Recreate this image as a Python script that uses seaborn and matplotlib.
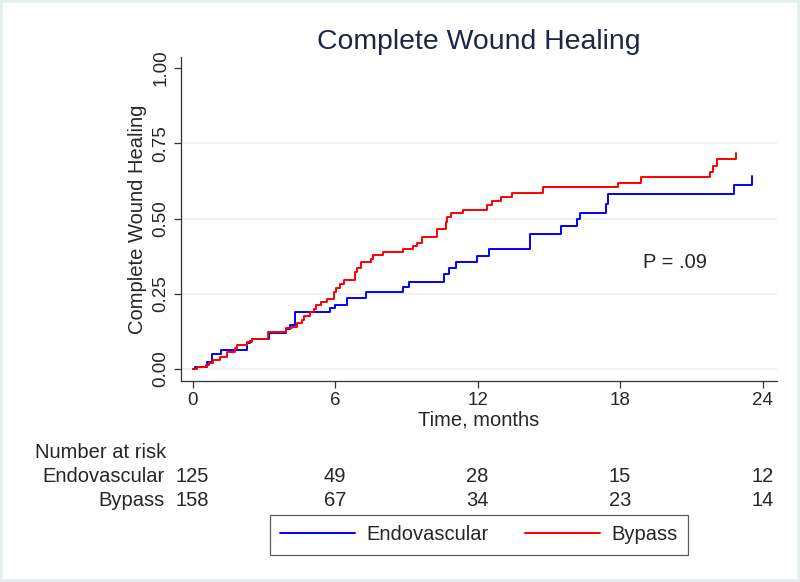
import pandas as pd
import matplotlib.pyplot as plt
import seaborn as sns
from matplotlib.patches import Rectangle

# Kaplan-Meier style step curves (time in months, cumulative healing)
endo_time = [0, 0.1, 0.6, 0.8, 1.2, 2.3, 2.4, 2.5, 3.2, 3.95, 4.1, 4.3, 5.8, 6.0, 6.5,
             7.3, 8.85, 9.1, 10.57, 10.78, 11.07, 11.96, 12.47, 14.2, 15.5, 16.2, 16.3,
             17.4, 17.5, 22.8, 23.55]
endo_surv = [0, 0.007, 0.023, 0.05, 0.063, 0.086, 0.093, 0.10, 0.12, 0.133, 0.146, 0.19,
             0.203, 0.213, 0.236, 0.256, 0.273, 0.29, 0.315, 0.335, 0.356, 0.376, 0.398,
             0.45, 0.475, 0.50, 0.52, 0.55, 0.58, 0.61, 0.64]

bypass_time = [0, 0.2, 0.58, 0.7, 0.85, 1.14, 1.43, 1.77, 1.85, 2.3, 2.5, 3.16, 3.95, 4.17,
               4.38, 4.6, 4.7, 4.93, 5.1, 5.2, 5.39, 5.64, 5.94, 6.02, 6.19, 6.36, 6.82,
               6.9, 7.1, 7.53, 7.6, 8.0, 8.85, 9.27, 9.43, 9.64, 10.3, 10.65, 10.7, 10.86,
               11.4, 12.4, 12.6, 13.0, 13.43, 14.74, 17.9, 18.9, 21.8, 21.9, 22.1, 22.9]
bypass_surv = [0, 0.005, 0.013, 0.02, 0.03, 0.04, 0.056, 0.07, 0.08, 0.09, 0.10, 0.123,
               0.135, 0.14, 0.153, 0.163, 0.176, 0.19, 0.2, 0.213, 0.223, 0.232, 0.256,
               0.268, 0.282, 0.296, 0.322, 0.335, 0.355, 0.365, 0.378, 0.389, 0.398, 0.41,
               0.418, 0.44, 0.465, 0.49, 0.505, 0.518, 0.528, 0.545, 0.558, 0.571, 0.585,
               0.605, 0.618, 0.638, 0.655, 0.674, 0.698, 0.718]

groups = ['Endovascular', 'Bypass']
risk_times = [0, 6, 12, 18, 24]
risk_endo = [125, 49, 28, 15, 12]
risk_bypass = [158, 67, 34, 23, 14]

df = pd.concat([
    pd.DataFrame({'time': endo_time, 'healed': endo_surv, 'group': 'Endovascular'}),
    pd.DataFrame({'time': bypass_time, 'healed': bypass_surv, 'group': 'Bypass'}),
])

sns.set_style('white')
plt.rcParams['font.family'] = ['Liberation Sans', 'DejaVu Sans']
fs = 14.5

fig = plt.figure(figsize=(8, 5.82), dpi=100)
fig.patches.append(Rectangle((0, 0), 1, 1, transform=fig.transFigure, fill=False,
                             edgecolor='#e6eff0', linewidth=4))
ax = fig.add_axes([0.226, 0.3454, 0.745, 0.5566])

sns.lineplot(data=df, x='time', y='healed', hue='group', hue_order=groups,
             palette={'Endovascular': '#0000ff', 'Bypass': '#ff0000'},
             estimator=None, sort=False, drawstyle='steps-post', linewidth=1.4,
             legend=False, ax=ax)

ax.set_xlim(-0.5, 24.6)
ax.set_ylim(-0.04, 1.037)
ax.set_xticks(risk_times)
ax.set_yticks([0, 0.25, 0.5, 0.75, 1.0])
ax.set_yticklabels(['0.00', '0.25', '0.50', '0.75', '1.00'], rotation=90, va='center')
for g in [0, 0.25, 0.5, 0.75]:
    ax.axhline(g, color='#eaf2f3', linewidth=1.2, zorder=0)
for side in ['top', 'right']:
    ax.spines[side].set_visible(False)
for side in ['left', 'bottom']:
    ax.spines[side].set_color('#333333')
    ax.spines[side].set_linewidth(0.9)
ax.tick_params(axis='both', direction='out', length=5, width=0.9, color='#333333',
               labelsize=13.5, pad=3, left=True, bottom=True)
ax.set_xlabel('Time, months', fontsize=fs, labelpad=1)
ax.set_ylabel('Complete Wound Healing', fontsize=fs, labelpad=4)
ax.set_title('Complete Wound Healing', fontsize=20.4, color='#1a2745', pad=6)
ax.text(18.95, 0.355, 'P = .09', fontsize=fs, va='center', ha='left')

# number at risk table
trans = ax.get_xaxis_transform()
fig.text(35 / 800, 1 - 453 / 582, 'Number at risk', fontsize=fs, va='center', ha='left')
fig.text(165 / 800, 1 - 477 / 582, 'Endovascular', fontsize=fs, va='center', ha='right')
fig.text(165 / 800, 1 - 501 / 582, 'Bypass', fontsize=fs, va='center', ha='right')
y_endo = ax.transAxes.inverted().transform(fig.transFigure.transform((0, 1 - 477 / 582)))[1]
y_byp = ax.transAxes.inverted().transform(fig.transFigure.transform((0, 1 - 501 / 582)))[1]
for t, n1, n2 in zip(risk_times, risk_endo, risk_bypass):
    ax.text(t, y_endo, str(n1), transform=trans, fontsize=fs, ha='center', va='center',
            clip_on=False)
    ax.text(t, y_byp, str(n2), transform=trans, fontsize=fs, ha='center', va='center',
            clip_on=False)

# legend below
handles = [plt.Line2D([], [], color='#0000ff', linewidth=1.4),
           plt.Line2D([], [], color='#ff0000', linewidth=1.4)]
leg = fig.legend(handles, groups, loc='center', bbox_to_anchor=(479 / 800, 1 - 535 / 582),
                 ncol=2, fontsize=fs, frameon=True, fancybox=False, handlelength=3.7,
                 columnspacing=1.8, handletextpad=0.6, borderpad=0.5, borderaxespad=0)
leg.get_frame().set_edgecolor('#333333')
leg.get_frame().set_linewidth(0.9)

fig.savefig('out.png', dpi=100)
